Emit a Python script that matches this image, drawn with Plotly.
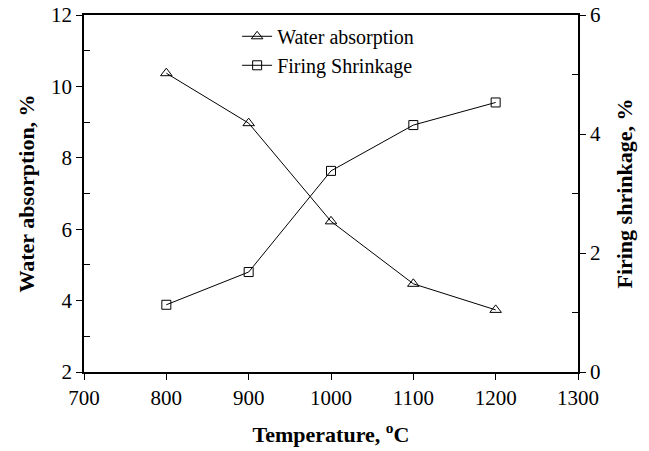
import plotly.graph_objects as go

temperature = [800, 900, 1000, 1100, 1200]
water_absorption = [10.37, 8.97, 6.22, 4.47, 3.74]
firing_shrinkage = [1.13, 1.68, 3.38, 4.15, 4.53]

FONT = "Liberation Serif"

fig = go.Figure()
fig.add_trace(go.Scatter(
    x=temperature, y=water_absorption, name="Water absorption",
    mode="lines+markers",
    line=dict(color="black", width=1),
    marker=dict(symbol="triangle-up-open", size=10, color="black", line=dict(width=1)),
))
fig.add_trace(go.Scatter(
    x=temperature, y=firing_shrinkage, name="Firing Shrinkage",
    mode="lines+markers", yaxis="y2",
    line=dict(color="black", width=1),
    marker=dict(symbol="square-open", size=9, color="black", line=dict(width=1)),
))

axis_common = dict(showline=True, linecolor="black", linewidth=1.5, showgrid=False,
                   zeroline=False, ticks="outside", ticklen=6, tickcolor="black",
                   automargin=False,
                   tickfont=dict(family=FONT, size=21, color="black"))

fig.update_layout(
    width=649, height=451,
    margin=dict(l=84, r=71, t=15, b=79, autoexpand=False),
    plot_bgcolor="white", paper_bgcolor="white",
    font=dict(family=FONT, color="black"),
    xaxis=dict(range=[700, 1300], tickvals=[700, 800, 900, 1000, 1100, 1200, 1300],
               mirror=True,
               title=dict(text="<b>Temperature, <sup>o</sup>C</b>", font=dict(family=FONT, size=22), standoff=18),
               **axis_common),
    yaxis=dict(range=[2, 12], tickvals=[2, 4, 6, 8, 10, 12],
               minor=dict(tickvals=[3, 5, 7, 9, 11], ticks="inside", ticklen=6, tickcolor="black"),
               title=dict(text="<b>Water absorption, %</b>", font=dict(family=FONT, size=22), standoff=10),
               **axis_common),
    yaxis2=dict(range=[0, 6], tickvals=[0, 2, 4, 6], overlaying="y", side="right",
                minor=dict(tickvals=[1, 3, 5], ticks="inside", ticklen=6, tickcolor="black"),
                title=dict(text="<b>Firing shrinkage, %</b>", font=dict(family=FONT, size=22), standoff=17),
                **axis_common),
    legend=dict(x=0.31, y=0.995, xanchor="left", yanchor="top",
                bgcolor="rgba(0,0,0,0)", font=dict(family=FONT, size=20, color="black"),
                tracegroupgap=0, itemwidth=30),
    showlegend=True,
)

fig.write_html("out.html")
